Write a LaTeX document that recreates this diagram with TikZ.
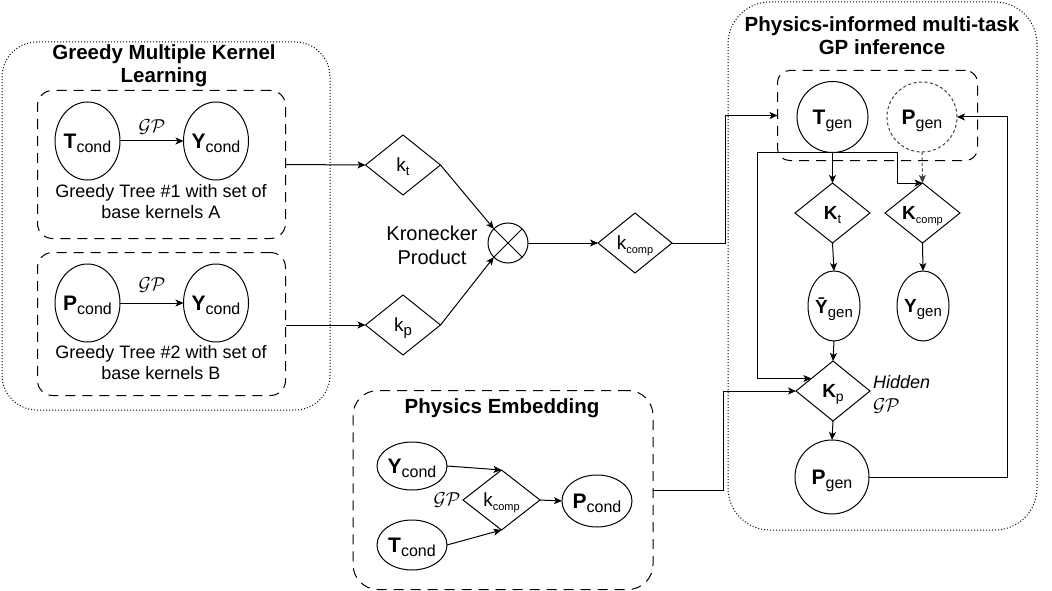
\documentclass[tikz,border=0pt]{standalone}
\usepackage{fontspec}
\setmainfont{Liberation Sans}
\usetikzlibrary{shapes.geometric,arrows.meta,calc}
\newcommand{\bsub}[4]{\textbf{\fontsize{#3}{#3}\selectfont #1}\smash{\raisebox{-4pt}{\fontsize{#4}{#4}\selectfont #2}}}
\newcommand{\rsub}[4]{{\fontsize{#3}{#3}\selectfont #1}\smash{\raisebox{-4pt}{\fontsize{#4}{#4}\selectfont #2}}}
\newcommand{\zw}[1]{\makebox[0pt]{#1}}
\newcommand{\gpl}{\scalebox{1.3}{\fontsize{15}{15}\selectfont$\mathcal{GP}$}}
\begin{document}
\begin{tikzpicture}[x=1pt,y=-1pt,line width=1pt,
  every node/.style={inner sep=0pt,outer sep=0pt},
  arr/.style={-{Stealth[length=8pt,width=7pt,inset=2pt]}},
  ell/.style={draw,ellipse},
  dia/.style={draw,diamond,minimum width=75pt,minimum height=60pt},
  dotbox/.style={draw,dash pattern=on 1pt off 2pt,rounded corners=#1},
  dashbox/.style={draw,dash pattern=on 10pt off 7pt,rounded corners=#1},
  finedash/.style={dash pattern=on 3pt off 2.5pt,draw=black!75},
  title/.style={align=center,font=\fontsize{20.5}{23}\selectfont\bfseries},
  body/.style={align=center,font=\fontsize{18}{21}\selectfont}]
\useasboundingbox (0,0) rectangle (1052,591);

% ---------- Greedy MKL ----------
\node[dotbox=35pt,minimum width=328pt,minimum height=368pt] (outer1) at (166,226) {};
\node[title] (title1) at (164,66) {Greedy Multiple Kernel\\Learning};
\node[dashbox=15pt,minimum width=248pt,minimum height=148pt] (box1) at (161.5,164.5) {};
\node[dashbox=15pt,minimum width=248pt,minimum height=143pt] (box2) at (161.5,324) {};

\node[ell,minimum width=65pt,minimum height=78pt] (tc1) at (87.5,141) {\zw{\bsub{T}{cond}{21}{16}}};
\node[ell,minimum width=65pt,minimum height=78pt] (yc1) at (216,141) {\zw{\bsub{Y}{cond}{21}{16}}};
\node (gp1) at (152,127) {\gpl};
\node[body] (tree1) at (161,202) {Greedy Tree \#1 with set of\\base kernels A};

\node[ell,minimum width=65pt,minimum height=78pt] (pc2) at (87.5,303) {\zw{\bsub{P}{cond}{21}{16}}};
\node[ell,minimum width=65pt,minimum height=78pt] (yc2) at (216,303) {\zw{\bsub{Y}{cond}{21}{16}}};
\node (gp2) at (152,285) {\gpl};
\node[body] (tree2) at (161,363) {Greedy Tree \#2 with set of\\base kernels B};

\draw[arr] (tc1) -- (yc1);
\draw[arr] (pc2) -- (yc2);

% ---------- Kronecker ----------
\node[dia] (kt) at (403,165) {\zw{\rsub{k}{t}{19}{13}}};
\node[dia] (kp) at (403,325) {\zw{\rsub{k}{p}{19}{15}}};
\node[draw,circle,minimum size=40pt] (ot) at (508,243) {};
\draw (ot.north west) -- (ot.south east) (ot.north east) -- (ot.south west);
\node[body,font=\fontsize{20}{24}\selectfont] (kron) at (432,245) {Kronecker\\Product};
\node[dia,minimum width=74pt] (kc) at (635,243) {\zw{\rsub{k}{comp}{19}{11}}};

\draw[arr] (box1.east) -- (kt.west);
\draw[arr] (box2.east |- kp.west) -- (kp.west);
\draw[arr] (kt.east) -- (ot.north west);
\draw[arr] (kp.east) -- (ot.south west);
\draw[arr] (ot.east) -- (kc.west);

% ---------- Physics-informed multi-task GP ----------
\node[dotbox=42pt,minimum width=309pt,minimum height=528pt] (outer2) at (882.5,266) {};
\node[title] (title2) at (882,36) {Physics-informed multi-task\\GP inference};
\node[dashbox=12pt,minimum width=200pt,minimum height=90pt] (genbox) at (877.5,115.5) {};

\node[draw,circle,minimum size=71pt] (tgen) at (832.5,117) {\zw{\bsub{T}{gen}{21}{16}}};
\node[draw,circle,finedash,minimum size=70pt] (pgen1) at (922,117) {\zw{\bsub{P}{gen}{21}{16}}};
\node[dia] (Kt) at (832.5,213) {\zw{\bsub{K}{t}{19}{13}}};
\node[dia] (Kcomp) at (922.5,213) {\zw{\bsub{K}{comp}{19}{11}}};
\node[ell,minimum width=52pt,minimum height=70pt] (ybar) at (834,306) {\zw{\bsub{\={Y}}{gen}{19}{15}}};
\node[ell,minimum width=52pt,minimum height=70pt] (ygen) at (923,306) {\zw{\bsub{Y}{gen}{19}{15}}};
\node[dia,minimum width=74pt] (Kp) at (833,391) {\zw{\bsub{K}{p}{19}{14}}};
\node[draw,circle,minimum size=74pt] (pgen2) at (832,477) {\zw{\bsub{P}{gen}{21}{16}}};
\node[anchor=west,font=\fontsize{18}{18}\selectfont\itshape] (hid) at (873,382) {Hidden};
\node[anchor=west] (gp4) at (873,406) {\gpl};

\coordinate (j1) at (725,0);
\coordinate (j2) at (897,0);
\coordinate (j3) at (757,0);
\coordinate (j4) at (1007,0);
\coordinate (j5) at (723,0);

\draw[arr] (kc.east) -- (kc.east -| j1) |- (genbox.west);
\draw[arr] (tgen.south) -- (Kt.north);
\draw[arr] (tgen.south) -- (tgen.south -| j2) |- (Kcomp.north);
\draw[arr] (tgen.south) -- (tgen.south -| j3) -- (j3 |- Kp.150) -- (Kp.150);
\draw[arr,finedash] (pgen1.south) -- (Kcomp.north);
\draw[arr] (Kt.south) -- (ybar.north);
\draw[arr] (Kcomp.south) -- (ygen.north);
\draw[arr] (ybar.south) -- (Kp.north);
\draw[arr] (Kp.south) -- (pgen2.north);
\draw[arr] (pgen2.east) -- (pgen2.east -| j4) -- (j4 |- pgen1.east) -- (pgen1.east);

% ---------- Physics Embedding ----------
\node[dashbox=25pt,minimum width=300pt,minimum height=199pt] (box3) at (503,490) {};
\node[title] (title3) at (502,408) {Physics Embedding};
\node[ell,minimum width=70pt,minimum height=48pt] (yc3) at (412,466) {\zw{\bsub{Y}{cond}{21}{16}}};
\node[ell,minimum width=70pt,minimum height=50pt] (tc3) at (412,545) {\zw{\bsub{T}{cond}{21}{16}}};
\node[dia,minimum width=77pt] (kc3) at (501.5,500) {\zw{\rsub{k}{comp}{19}{11}}};
\node[ell,minimum width=70pt,minimum height=52pt] (pc3) at (597,501) {\zw{\bsub{P}{cond}{21}{16}}};
\node (gp3) at (447,500) {\gpl};

\draw[arr] (yc3.east) -- (kc3.north);
\draw[arr] (tc3.east) -- (kc3.south);
\draw[arr] (kc3.east) -- (pc3.west);
\draw[arr] (box3.east) -- (box3.east -| j5) -- (j5 |- Kp.west) -- (Kp.west);
\end{tikzpicture}
\end{document}
